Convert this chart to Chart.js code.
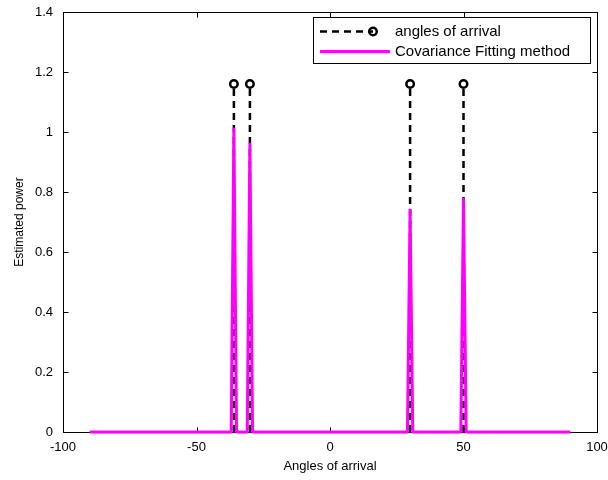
<!DOCTYPE html>
<html><head><meta charset="utf-8">
<script src="https://cdn.jsdelivr.net/npm/chart.js@4"></script>
<style>html,body{margin:0;padding:0;background:#fff}#wrap{width:608px;height:480px}</style>
</head><body><div id="wrap"><canvas id="c" width="608" height="480"></canvas></div>
<script>
// ---- data ----
const stemAngles = [-36, -30, 30, 50];
const stemValues = [1.16, 1.16, 1.16, 1.16];
const spectrumAngles = [-90, -37, -36, -35, -31, -30, -29, 29, 30, 31, 49, 50, 51, 90];
const spectrumPower  = [0, 0, 1.01, 0, 0, 0.96, 0, 0, 0.74, 0, 0, 0.775, 0, 0];
const xTickValues = [-100, -50, 0, 50, 100];
const yTickValues = [0, 0.2, 0.4, 0.6, 0.8, 1, 1.2, 1.4];
const seriesLabels = ['angles of arrival', 'Covariance Fitting method'];
const xTitle = 'Angles of arrival';
const yTitle = 'Estimated power';

const FONT = "'Liberation Sans', Arial, sans-serif";

const stemData = [];
stemAngles.forEach((a, i) => {
  stemData.push({x: a, y: 0});
  stemData.push({x: a, y: stemValues[i]});
  stemData.push({x: a, y: null});
});
const specData = spectrumAngles.map((a, i) => ({x: a, y: spectrumPower[i]}));

const framePlugin = {
  id: 'frame',
  beforeDatasetsDraw(chart) {
    const {ctx, chartArea: ca, scales: {x, y}} = chart;
    ctx.save();
    ctx.strokeStyle = '#000';
    ctx.lineWidth = 1;
    ctx.beginPath();
    const L = Math.round(ca.left) + 0.5, R = Math.round(ca.right) + 0.5;
    const T = Math.round(ca.top) + 0.5, B = Math.round(ca.bottom) + 0.5;
    ctx.rect(L, T, R - L, B - T);
    const tl = 5;
    x.ticks.forEach(t => {
      const px = Math.round(x.getPixelForValue(t.value)) + 0.5;
      ctx.moveTo(px, B); ctx.lineTo(px, B - tl);
      ctx.moveTo(px, T); ctx.lineTo(px, T + tl);
    });
    y.ticks.forEach(t => {
      const py = Math.round(y.getPixelForValue(t.value)) + 0.5;
      ctx.moveTo(L, py); ctx.lineTo(L + tl, py);
      ctx.moveTo(R, py); ctx.lineTo(R - tl, py);
    });
    ctx.stroke();
    ctx.restore();
  }
};

const legendPlugin = {
  id: 'boxLegend',
  afterDraw(chart) {
    const {ctx} = chart;
    const ds = chart.data.datasets;
    const bx = 313, by = 17, bw = 277, bh = 46;
    ctx.save();
    ctx.fillStyle = '#fff';
    ctx.fillRect(bx, by, bw, bh);
    ctx.strokeStyle = '#000';
    ctx.lineWidth = 1;
    ctx.strokeRect(bx + 0.5, by + 0.5, bw, bh);
    const rows = [31.5, 51.5];
    ds.forEach((d, i) => {
      const yy = rows[i];
      ctx.save();
      ctx.strokeStyle = d.borderColor;
      ctx.lineWidth = d.borderWidth;
      ctx.setLineDash(d.borderDash || []);
      ctx.beginPath();
      ctx.moveTo(320, yy); ctx.lineTo(d.legendMarker ? 373 : 390, yy);
      ctx.stroke();
      ctx.restore();
      if (d.legendMarker) {
        ctx.beginPath();
        ctx.arc(373, yy, 3.75, 0, Math.PI * 2);
        ctx.lineWidth = 2.5;
        ctx.strokeStyle = '#000';
        ctx.stroke();
      }
      ctx.fillStyle = '#000';
      ctx.font = '15px ' + FONT;
      ctx.textBaseline = 'middle';
      ctx.textAlign = 'left';
      ctx.fillText(d.label, 395, yy + 0.5);
    });
    ctx.restore();
  }
};

new Chart(document.getElementById('c'), {
  type: 'line',
  data: {
    datasets: [
      {
        label: seriesLabels[0],
        data: stemData,
        borderColor: '#000',
        borderWidth: 2.5,
        borderDash: [7, 5],
        spanGaps: false,
        pointRadius: c => (c.raw && c.raw.y > 0 ? 3.75 : 0),
        pointHoverRadius: 0,
        pointBackgroundColor: 'rgba(0,0,0,0)',
        pointBorderColor: '#000',
        pointBorderWidth: 2.5,
        legendMarker: true,
        clip: false,
        order: 2
      },
      {
        label: seriesLabels[1],
        data: specData,
        borderColor: '#ff00ff',
        borderWidth: 3,
        borderJoinStyle: 'round',
        pointRadius: 0,
        tension: 0,
        clip: false,
        order: 1
      }
    ]
  },
  options: {
    responsive: false,
    animation: false,
    devicePixelRatio: 1,
    layout: {padding: {top: 12, right: 11, left: 0, bottom: 0}},
    plugins: {legend: {display: false}, tooltip: {enabled: false}},
    events: [],
    scales: {
      x: {
        type: 'linear',
        min: -100, max: 100,
        afterBuildTicks: s => { s.ticks = xTickValues.map(v => ({value: v})); },
        afterFit: s => { s.height = 48; s.paddingLeft = 0; s.paddingRight = 0; },
        grid: {display: false, drawTicks: false},
        border: {display: false},
        ticks: {color: '#000', font: {family: FONT, size: 13}, padding: 8, maxRotation: 0},
        title: {display: true, text: xTitle, color: '#000', font: {family: FONT, size: 13}, padding: {top: 0, bottom: 6}}
      },
      y: {
        type: 'linear',
        min: 0, max: 1.4,
        afterBuildTicks: s => { s.ticks = yTickValues.map(v => ({value: v})); },
        afterFit: s => { s.width = 63; s.paddingTop = 0; s.paddingBottom = 0; },
        grid: {display: false, drawTicks: false},
        border: {display: false},
        ticks: {color: '#000', font: {family: FONT, size: 13}, padding: 10,
                callback: v => String(Number(v.toFixed(1)))},
        title: {display: true, text: yTitle, color: '#000', font: {family: FONT, size: 12}, padding: {top: 12, bottom: 0}}
      }
    }
  },
  plugins: [framePlugin, legendPlugin]
});
</script>
</body></html>
